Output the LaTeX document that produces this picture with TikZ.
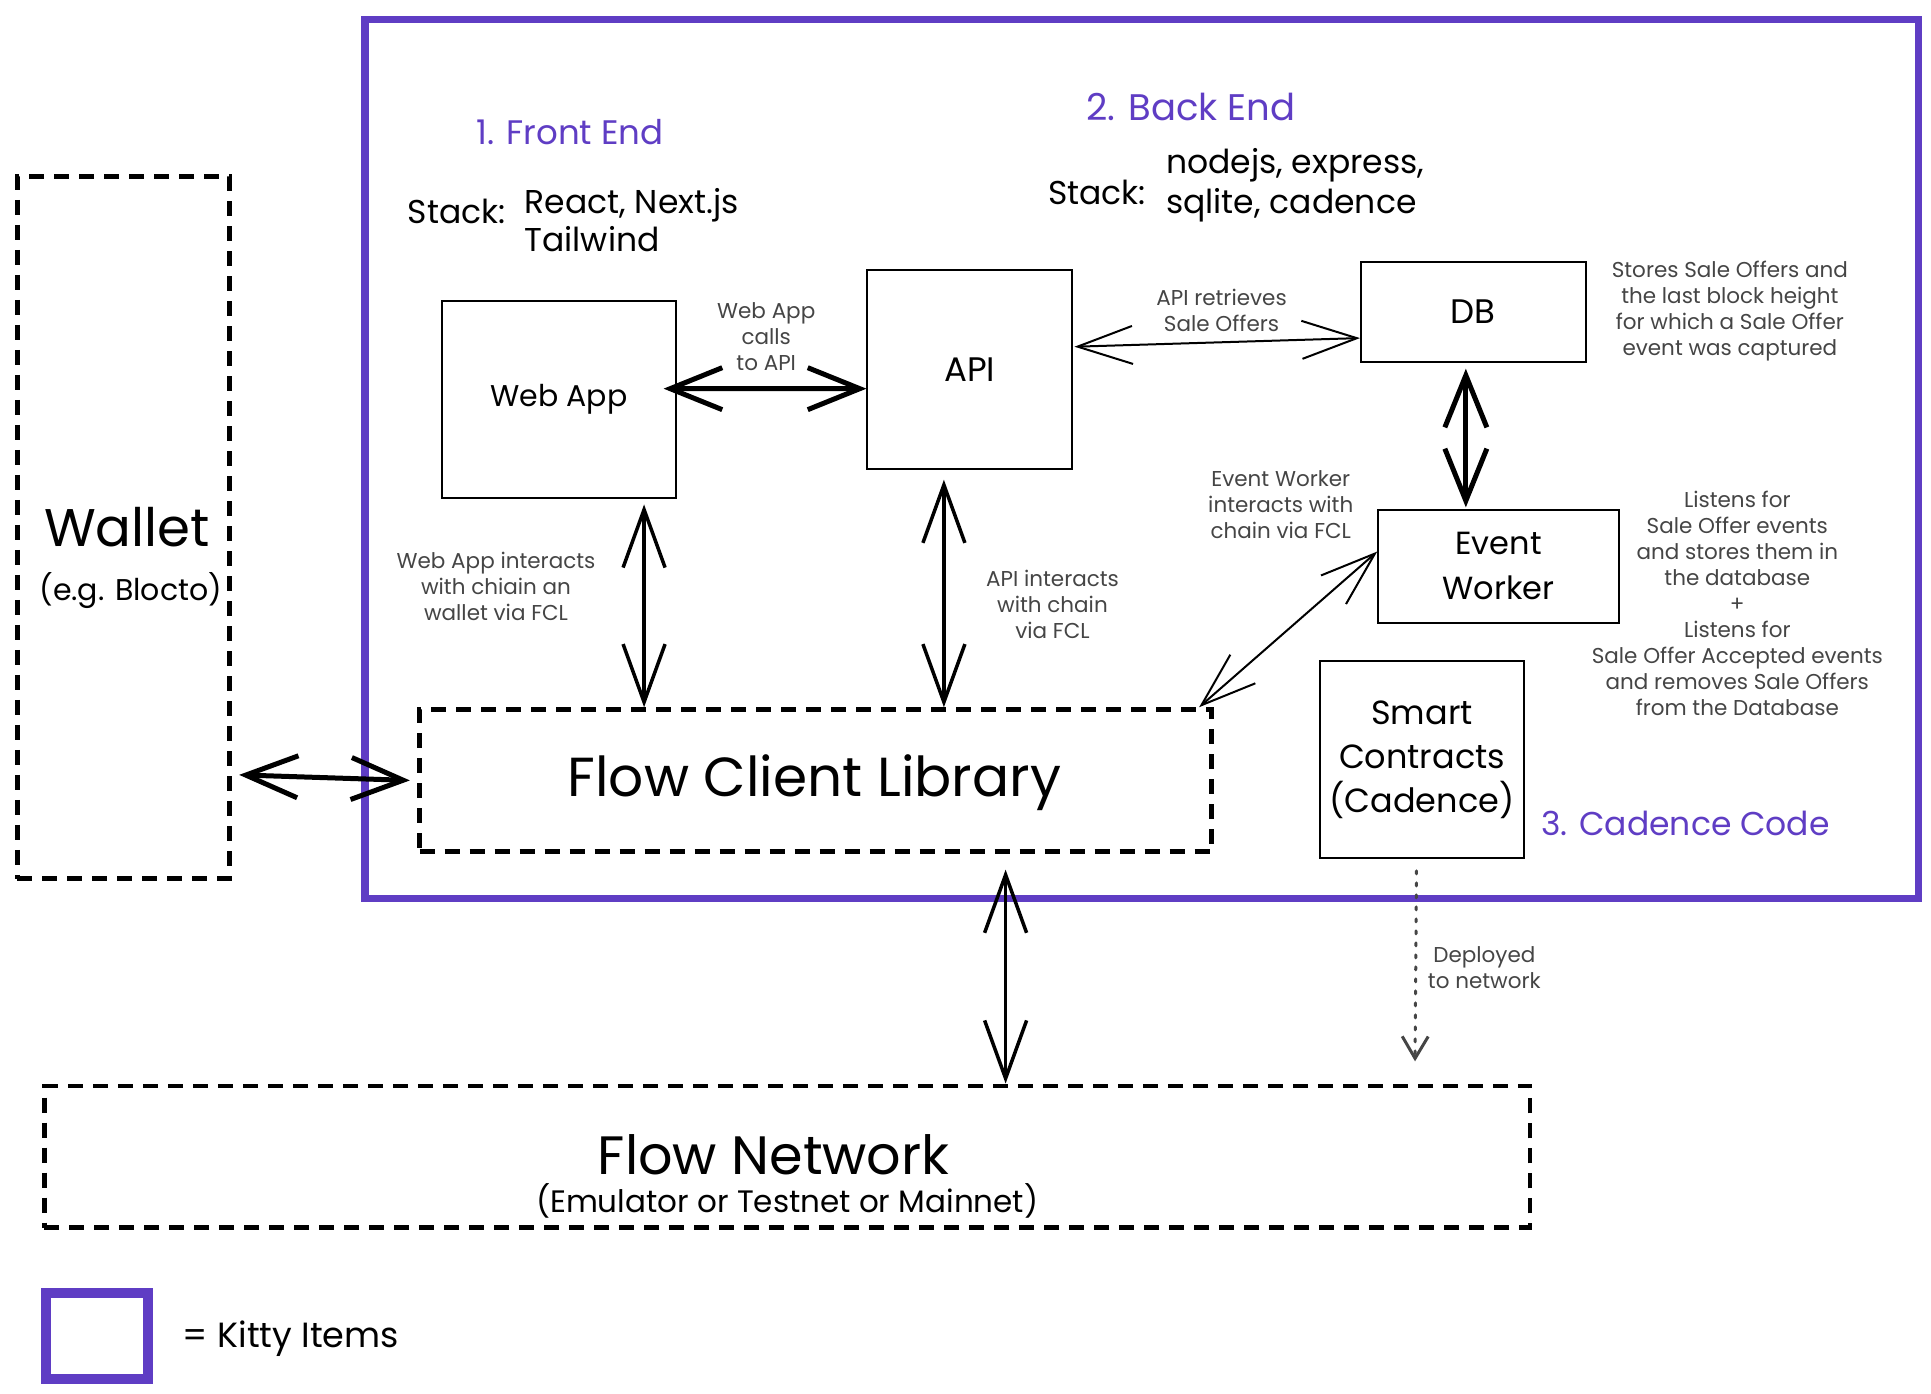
\documentclass[tikz,border=0pt]{standalone}
\usepackage{fontspec}
\setmainfont{Poppins}
\usetikzlibrary{arrows.meta,calc}
\definecolor{kitty}{HTML}{5F3DC4}
\definecolor{notegray}{HTML}{454545}
\def\PX{1.2339pt}
\newcommand\fsz[2]{\fontsize{#1}{#2}\selectfont}
\begin{document}
\begin{tikzpicture}[x=1.2339pt,y=-1.2339pt,
  box/.style={draw, line width=2pt, inner sep=0pt, align=center},
  dbox/.style={draw, line width=4.5pt, dash pattern=on 15pt off 10pt, inner sep=0pt},
  note/.style={text=notegray, align=center, font=\fsz{21.5}{26}, inner sep=0pt},
  title/.style={text=kitty, inner sep=0pt},
  plain/.style={inner sep=0pt, align=left},
  thickarr/.style={{Straight Barb[length=52pt,width=42pt]}-{Straight Barb[length=52pt,width=42pt]}, line width=5pt},
  midarr/.style={{Straight Barb[length=58pt,width=42pt]}-{Straight Barb[length=58pt,width=42pt]}, line width=3.5pt},
  thinarr/.style={{Straight Barb[length=55pt,width=38pt]}-{Straight Barb[length=55pt,width=38pt]}, line width=2pt},
  dotarr/.style={-{Straight Barb[length=22pt,width=26pt]}, notegray, line width=3pt, dash pattern=on 3pt off 9pt, line cap=round}
]
\useasboundingbox (0,0) rectangle (1565,1129);

% Kitty Items frame
\node[draw=kitty, line width=7.5pt, minimum width=1259*\PX, minimum height=712*\PX, inner sep=0pt] (frame) at (925.5,372) {};

% Wallet
\node[dbox, minimum width=172*\PX, minimum height=569*\PX] (wallet) at (100,427.5) {};
\node[inner sep=0pt, font=\fsz{53}{60}] (wallettxt) at (103,427) {Wallet};
\node[inner sep=0pt, font=\fsz{30}{34}] (walletsub) at (106,479) {(e.g. Blocto)};

% section titles
\node[title, font=\fsz{34}{40}] (fe) at (462,107) {1. Front End};
\node[title, font=\fsz{37}{42}] (be) at (965,87) {2. Back End};
\node[title, font=\fsz{33}{40}] (cc) at (1366,667) {3. Cadence Code};

% stacks
\node[plain, font=\fsz{33}{38}] (festack) at (370,171) {Stack:};
\node[plain, font=\fsz{33}{38}, anchor=west] (fetech) at (425,178) {React, Next.js\\Tailwind};
\node[plain, font=\fsz{33}{40}] (bestack) at (889,156) {Stack:};
\node[plain, font=\fsz{33}{40}, anchor=west] (betech) at (945,150) {nodejs, express,\\sqlite, cadence};

% boxes
\node[box, minimum width=190*\PX, minimum height=160*\PX, font=\fsz{30}{36}] (webapp) at (453,324) {Web App};
\node[box, minimum width=166*\PX, minimum height=161*\PX, font=\fsz{34}{40}] (api) at (786,299.5) {API};
\node[box, minimum width=182*\PX, minimum height=81*\PX, font=\fsz{34}{40}] (db) at (1194,252.5) {DB};
\node[box, minimum width=195*\PX, minimum height=92*\PX, font=\fsz{32}{45}] (worker) at (1214.5,459) {Event\\Worker};
\node[box, minimum width=165*\PX, minimum height=159*\PX, font=\fsz{33.5}{44}] (contracts) at (1152.5,615.5) {Smart\\Contracts\\(Cadence)};

% dashed boxes
\node[dbox, minimum width=642*\PX, minimum height=115*\PX] (fcl) at (661,632.5) {};
\node[inner sep=0pt, font=\fsz{55}{60}] (fcltxt) at (660,634) {Flow Client Library};
\node[dbox, minimum width=1204*\PX, minimum height=115*\PX] (network) at (638,937.5) {};
\node[inner sep=0pt, font=\fsz{54}{60}] (nettxt) at (627,936) {Flow Network};
\node[inner sep=0pt, font=\fsz{31}{34}] (netsub) at (638,973) {(Emulator or Testnet or Mainnet)};

% notes
\node[note] (n1) at (621,273) {Web App\\calls\\to API};
\node[note] (n2) at (990,251.5) {API retrieves\\Sale Offers};
\node[note] (n3) at (402,475.5) {Web App interacts\\with chiain an\\wallet via FCL};
\node[note] (n4) at (853,490) {API interacts\\with chain\\via FCL};
\node[note] (n5) at (1038,409) {Event Worker\\interacts with\\chain via FCL};
\node[note] (n6) at (1203,784.5) {Deployed\\to network};
\node[note] (n7) at (1402,252) {Stores Sale Offers and\\the last block height\\for which a Sale Offer\\event was captured};
\node[note] (n8) at (1408,489) {Listens for\\Sale Offer events\\and stores them in\\the database\\+\\Listens for\\Sale Offer Accepted events\\and removes Sale Offers\\from the Database};

% connectors
\draw[thickarr] ($(webapp.east)+(-11,-9)$) -- ($(api.west)+(0,15.5)$);
\draw[thinarr] ($(api.east)+(1,-18.5)$) -- ($(db.west)+(0,21.5)$);
\draw[thickarr] ($(db.south)+(-6,5)$) -- ($(worker.north)+(-26.5,-1)$);
\draw[midarr] ($(webapp.south)+(69,4)$) -- ($(fcl.north)+(-139,0)$);
\draw[midarr] ($(api.south)+(-21,8)$) -- ($(fcl.north)+(104,0)$);
\draw[thinarr] ($(worker.west)+(0,-12)$) -- ($(fcl.north east)+(-12,0)$);
\draw[thickarr] ($(wallet.east)+(6,200.5)$) -- ($(fcl.west)+(-6,0)$);
\draw[midarr] ($(fcl.south)+(154,13)$) -- ($(network.north)+(177,0)$);
\draw[dotarr] ($(contracts.south)+(-4.5,10)$) -- ($(network.north east)+(-95,-18)$);

% legend
\node[draw=kitty, line width=10pt, minimum width=83*\PX, minimum height=70*\PX, inner sep=0pt] (legend) at (78.5,1083) {};
\node[inner sep=0pt, font=\fsz{35}{40}, anchor=west] (legendtxt) at (148,1085) {= Kitty Items};
\end{tikzpicture}
\end{document}
